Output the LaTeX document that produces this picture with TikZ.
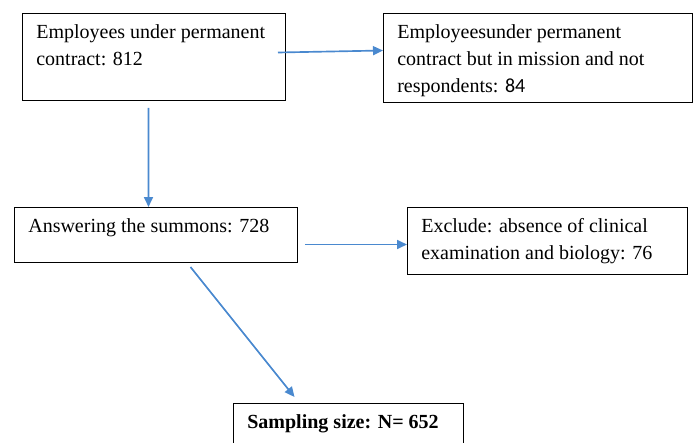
\documentclass[tikz,border=0pt]{standalone}
\usepackage{fontspec}
\setmainfont{Liberation Serif}
\newfontfamily\calfont{Carlito}
\usetikzlibrary{arrows.meta}
\definecolor{arrowblue}{RGB}{74,137,207}

\begin{document}
\begin{tikzpicture}[x = 0.6pt, y = -0.6pt,
		box/.style = {draw, line width = 0.6pt, anchor = north west, inner sep = 0pt},
		lbl/.style = {anchor = north west, align = left, inner xsep = 8.4pt, inner ysep = 6.6pt, font = \fontsize{12}{16.2}\selectfont},
		flow/.style = {draw = arrowblue, line width = 1pt, -{Triangle[length = 6pt, width = 5.4pt]}}]
			\useasboundingbox (0,0) rectangle (695,443);
			\clip (0,0) rectangle (695,443);
			
			\node[box, minimum width = 157.8pt, minimum height = 52.2pt, label = {[lbl]north west:{Employees under permanent\\contract: 812}}] (emp) at (22,13) {};
			\node[box, minimum width = 185.4pt, minimum height = 53.4pt, label = {[lbl]north west:{Employeesunder permanent\\contract but in mission and not\\respondents: {\calfont 84}}}] (mis) at (383,13) {};
			\node[box, minimum width = 169.8pt, minimum height = 33pt, label = {[lbl]north west:{Answering the summons: 728}}] (ans) at (14,207) {};
			\node[box, minimum width = 168pt, minimum height = 40.2pt, label = {[lbl]north west:{Exclude: absence of clinical\\examination and biology: 76}}] (exc) at (407,207) {};
			\node[box, minimum width = 138pt, minimum height = 27pt, label = {[lbl, inner ysep = 7pt]north west:{\textbf{Sampling size: N= 652}}}] (smp) at (233,403) {};
			
			\draw[flow] ([xshift = -4.8pt, yshift = 2.7pt]emp.east) -- ([yshift = 4.5pt]mis.west);
			\draw[flow] ([xshift = -3.3pt, yshift = -4.2pt]emp.south) -- ([xshift = -4.5pt]ans.north);
			\draw[flow] ([xshift = 4.2pt, yshift = -5.7pt]ans.east) -- ([yshift = -2.1pt]exc.west);
			\draw[flow] ([xshift = 20.7pt, yshift = -2.4pt]ans.south) -- ([xshift = -32.4pt, yshift = 3.6pt]smp.north);
\end{tikzpicture}
\end{document}
